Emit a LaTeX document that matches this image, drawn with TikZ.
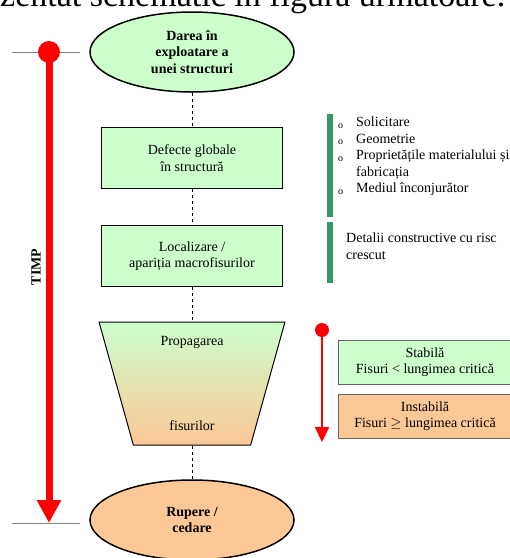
\documentclass[tikz,border=0pt]{standalone}
\usepackage{fontspec}
\setmainfont{Liberation Serif}
\usepackage{xcolor}
\usepackage{amsmath}
\usepackage{amssymb}
\usetikzlibrary{calc}
\usetikzlibrary{arrows.meta}
\usetikzlibrary{shapes}
\usetikzlibrary{positioning}
\usetikzlibrary{shapes.geometric}

\definecolor{lightgreen}{HTML}{CCFFCC}
\definecolor{peach}{HTML}{FCC896}
\definecolor{bargreen}{HTML}{339966}
\definecolor{axisgray}{HTML}{808080}

\newcommand{\bul}{\makebox[18pt][l]{\raisebox{-1.5pt}{\fontsize{10}{10}\selectfont o}}}

\tikzset{
  txt/.style={font=\fontsize{14}{16.5}\selectfont},
  btxt/.style={font=\fontsize{14}{16.5}\selectfont\bfseries},
  stagebox/.style={rectangle, draw=black, line width=1.5pt, fill=lightgreen, minimum width=181pt, minimum height=61pt, align=center, txt},
  endnode/.style={ellipse, draw=black, line width=1.5pt, minimum width=204pt, minimum height=80pt, inner sep=0pt, align=center, btxt},
  resbox/.style={rectangle, draw=black!60, line width=1pt, minimum width=174pt, minimum height=44pt, align=center, txt},
  bar/.style={rectangle, fill=bargreen, minimum width=6pt, inner sep=0pt}
}

\begin{document}
\begin{tikzpicture}[x=1pt, y=-1pt]
\useasboundingbox (0,0) rectangle (510,558);
\node [anchor=base west, inner sep=0pt, font=\fontsize{34}{40}\selectfont] (head) at (0,6) {zentat schematic în figura următoare.};

% time axis
\draw [axisgray, line width=1pt] (12,52) -- (80,52);
\draw [axisgray, line width=1pt] (12,523) -- (80,523);
\node [circle, fill=red, minimum size=22pt, inner sep=0pt] (TS) at (49,52) {};
\coordinate (TE) at (49,523);
\draw [-{Triangle[length=23pt,width=23pt]}, red, line width=7pt] (TS.center) to (TE);
\node [rotate=90, btxt] (TL) at (36,267) {TIMP};

% main stages
\node [endnode, fill=lightgreen] (DE) at (192,52) {Darea în\\exploatare a\\unei structuri};
\node [stagebox] (DG) at (192,158) {Defecte globale\\în structură};
\node [stagebox] (LM) at (192,256) {Localizare /\\apariția macrofisurilor};
\node [trapezium, shape border rotate=180, trapezium stretches=true, trapezium left angle=73.7, trapezium right angle=73.7, minimum width=186pt, minimum height=123pt, inner sep=3pt, draw=black, line width=1pt, top color=lightgreen, bottom color=peach] (PF) at (192,383.5) {};
\node [txt] (PFa) at (192,342) {Propagarea};
\node [txt] (PFb) at (192,426) {fisurilor};
\node [endnode, fill=peach] (RC) at (192,520) {Rupere /\\cedare};
\draw [dashed, line width=0.8pt] (DE) to (DG);
\draw [dashed, line width=0.8pt] (DG) to (LM);
\draw [dashed, line width=0.8pt] (LM) to (PF);
\draw [dashed, line width=0.8pt] (PF) to (RC);

% factors
\node [bar, minimum height=103pt] (B1) at (330,165.5) {};
\node [bar, minimum height=61pt] (B2) at (330,252.5) {};
\node [anchor=north west, inner sep=0pt, align=left, txt] (FL) at (338,117) {\bul Solicitare\\\bul Geometrie\\\bul Proprietățile materialului și\\\hspace*{18pt}fabricația\\\bul Mediul înconjurător};
\node [anchor=north west, inner sep=0pt, align=left, txt] (DC) at (346,233) {Detalii constructive cu risc\\crescut};

% crack growth
\node [circle, fill=red, minimum size=14pt, inner sep=0pt] (CS) at (322,330) {};
\coordinate (CE) at (322,442);
\draw [-{Triangle[length=15pt,width=14pt]}, red, line width=2pt] (CS.center) to (CE);
\node [resbox, fill=lightgreen] (ST) at (425,362) {Stabilă\\Fisuri < lungimea critică};
\node [resbox, fill=peach] (IN) at (425,416) {Instabilă\\Fisuri $\geq$ lungimea critică};
\end{tikzpicture}
\end{document}
